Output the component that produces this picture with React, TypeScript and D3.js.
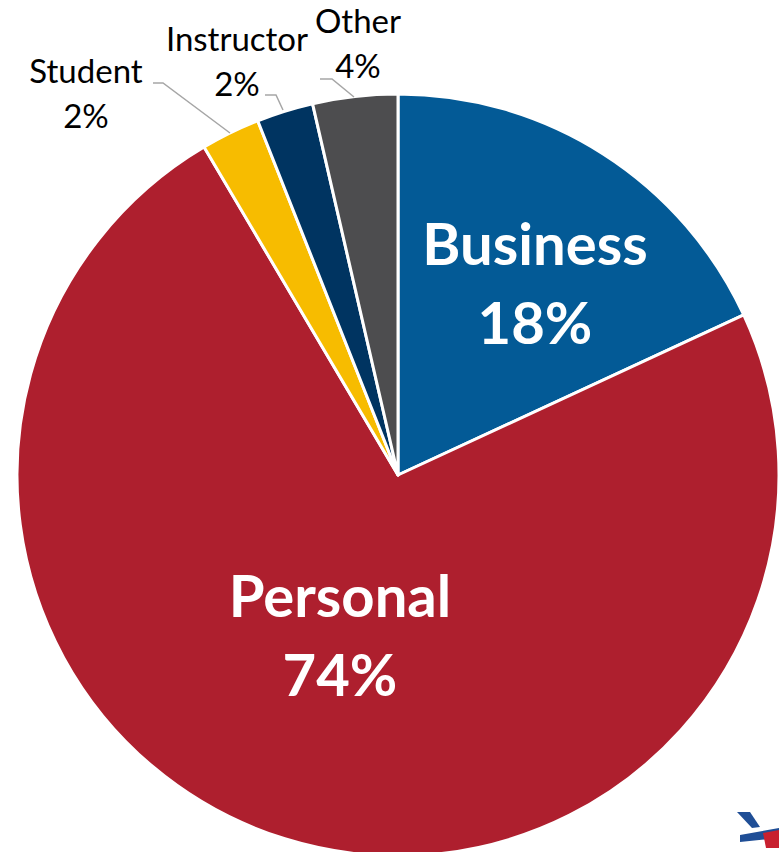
import React, { useEffect, useRef } from 'react';
import * as d3 from 'd3';

type Slice = { name: string; value: number; label: string };

const categories = ['Business', 'Personal', 'Student', 'Instructor', 'Other'];
const shares = [18.1, 73.4, 2.5, 2.4, 3.6];
const shareLabels = ['18%', '74%', '2%', '2%', '4%'];
const colors = ['#035A96', '#AE1F2E', '#F7BC00', '#003461', '#4D4D4F'];

const W = 779;
const H = 852;

const App = () => {
  const ref = useRef<SVGSVGElement | null>(null);

  useEffect(() => {
    const svg = d3.select(ref.current);
    svg.selectAll('*').remove();

    const cx = 398;
    const cy = 475;
    const r = 381;

    const data: Slice[] = categories.map((c, i) => ({ name: c, value: shares[i], label: shareLabels[i] }));

    const pie = d3
      .pie<Slice>()
      .sort(null)
      .value((d) => d.value)
      .startAngle(0)
      .endAngle(2 * Math.PI);

    const arc = d3.arc<d3.PieArcDatum<Slice>>().innerRadius(0).outerRadius(r);
    const arcs = pie(data);

    const g = svg.append('g').attr('transform', `translate(${cx},${cy})`);

    g.selectAll('path')
      .data(arcs)
      .enter()
      .append('path')
      .attr('d', arc)
      .attr('fill', (d, i) => colors[i])
      .attr('stroke', '#fff')
      .attr('stroke-width', 3)
      .attr('stroke-linejoin', 'round');

    // big inside labels
    const inner = [
      { i: 0, x: 535, y: 245 },
      { i: 1, x: 340, y: 597 },
    ];
    inner.forEach((p) => {
      const t = svg
        .append('text')
        .attr('text-anchor', 'middle')
        .attr('font-family', 'Lato, "Open Sans", sans-serif')
        .attr('font-weight', 700)
        .attr('font-size', 58)
        .attr('fill', '#fff');
      t.append('tspan').attr('x', p.x).attr('y', p.y + 20).text(categories[p.i]);
      t.append('tspan').attr('x', p.x).attr('y', p.y + 99).text(shareLabels[p.i]);
    });

    // outside labels with leader lines
    const outside = [
      { i: 2, x: 86, y: 72, line: [[153, 83], [163, 83], [230, 133]] },
      { i: 3, x: 237, y: 40, line: [[265, 95], [276, 95], [283, 110]] },
      { i: 4, x: 358, y: 22, line: [[320, 79], [332, 79], [354, 97]] },
    ];
    outside.forEach((p) => {
      svg
        .append('path')
        .attr('d', d3.line()(p.line as [number, number][]))
        .attr('fill', 'none')
        .attr('stroke', '#A6A6A6')
        .attr('stroke-width', 1.5);
      const t = svg
        .append('text')
        .attr('text-anchor', 'middle')
        .attr('font-family', 'Lato, "Open Sans", sans-serif')
        .attr('font-size', 33)
        .attr('fill', '#000');
      t.append('tspan').attr('x', p.x).attr('y', p.y + 11).text(categories[p.i]);
      t.append('tspan').attr('x', p.x).attr('y', p.y + 56).text(shareLabels[p.i]);
    });

    // little plane logo in the corner
    const logo = svg.append('g').attr('transform', 'translate(700,790)');
    logo.append('path').attr('d', 'M37,22 L50,22 L60,37 L52,38 Z').attr('fill', '#1F4E96');
    logo.append('path').attr('d', 'M40,45 L79,38 L79,48 L40,52 Z').attr('fill', '#1F4E96');
    logo.append('path').attr('d', 'M63,43 L79,40 L79,58 L66,58 Z').attr('fill', '#C8202F');
  }, []);

  return (
    <svg
      ref={ref}
      width={W}
      height={H}
      style={{ position: 'absolute', left: 0, top: 0, background: '#fff' }}
    />
  );
};

export default App;
